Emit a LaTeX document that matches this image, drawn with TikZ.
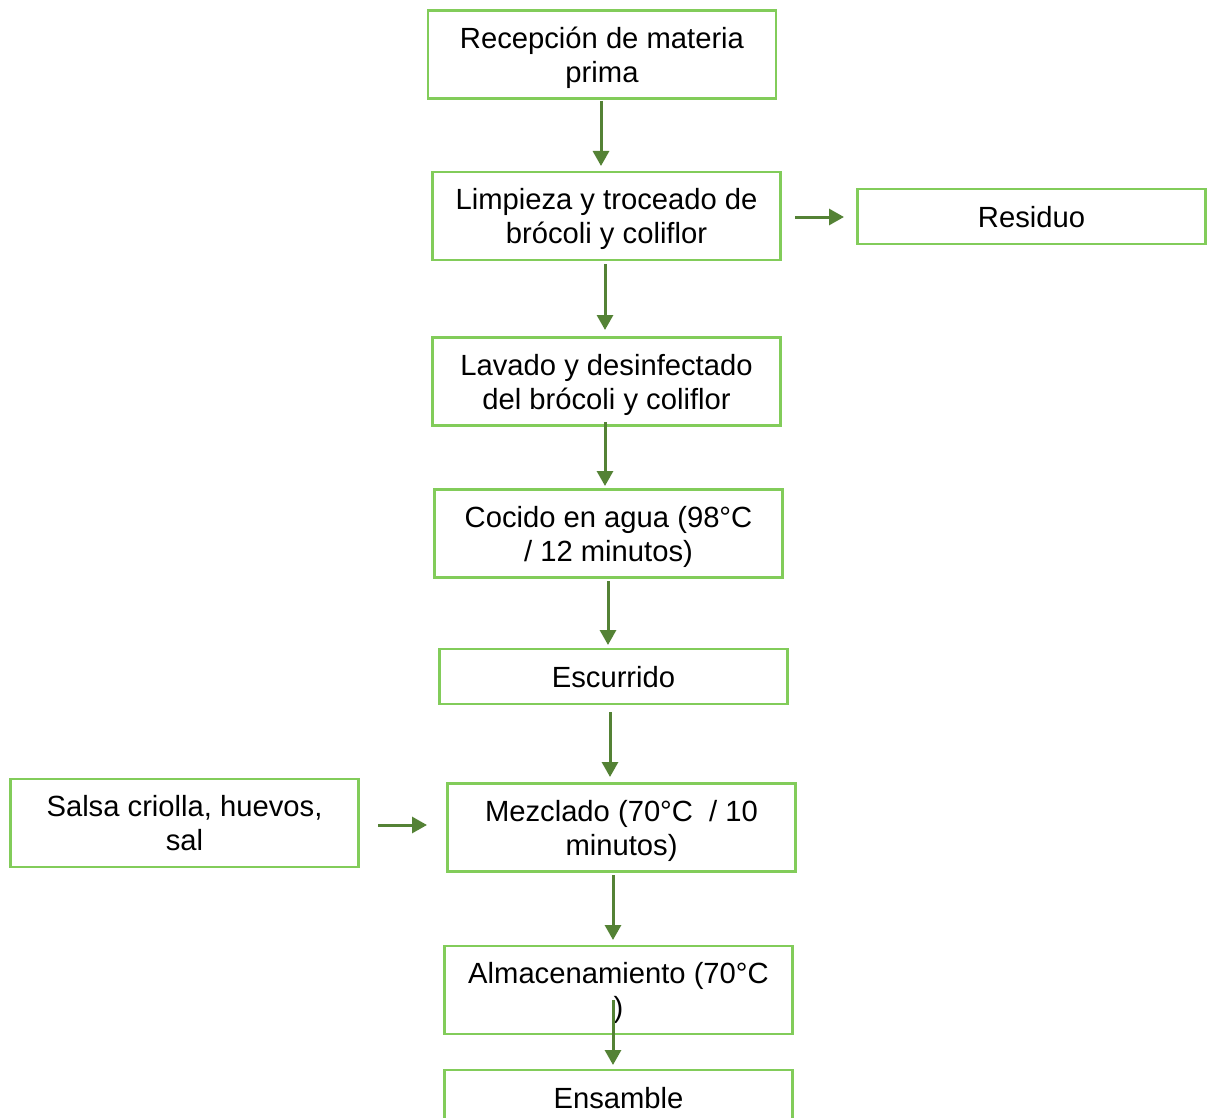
\documentclass[tikz,border=0pt]{standalone}
\usepackage{fontspec}
\setmainfont{Liberation Sans}
\usetikzlibrary{arrows.meta}
\definecolor{boxgreen}{HTML}{82CC5A}
\definecolor{arrowgreen}{HTML}{548235}
% box text, set a little below the box's middle
\newcommand{\boxtext}[1]{\raisebox{-4pt}[\height][\depth]{\begin{tabular}{@{}c@{}}#1\end{tabular}}}
\begin{document}
\begin{tikzpicture}[x=1pt,y=-1pt,
  stepbox/.style={draw=boxgreen,line width=2.5pt,fill=white,align=center,
    minimum width=348pt,inner sep=0pt,
    font=\fontsize{29.2}{33.8}\selectfont},
  tall/.style={minimum height=88pt},
  short/.style={minimum height=55pt},
  flow/.style={draw=arrowgreen,line width=3pt,
    -{Triangle[length=15pt,width=16pt]}}]
\useasboundingbox (0,0) rectangle (1212,1118);

% process steps
\node[stepbox,tall]  (rec) at (602,54.5) {\boxtext{Recepción de materia\\prima}};
\node[stepbox,tall]  (lim) at (606.5,216) {\boxtext{Limpieza y troceado de\\brócoli y coliflor}};
\node[stepbox,short] (res) at (1031.5,216.5) {\boxtext{Residuo}};
\node[stepbox,tall]  (lav) at (606.5,381.5) {\boxtext{Lavado y desinfectado\\del brócoli y coliflor}};
\node[stepbox,tall]  (coc) at (608.5,533.5) {\boxtext{Cocido en agua (98°C\\/ 12 minutos)}};
\node[stepbox,short] (esc) at (613.5,676.5) {\boxtext{Escurrido}};
\node[stepbox,tall]  (sal) at (184.5,823) {\boxtext{Salsa criolla, huevos,\\sal}};
\node[stepbox,tall]  (mez) at (621.5,827.5) {\boxtext{Mezclado (70°C\ \ / 10\\minutos)}};
\node[stepbox,tall]  (alm) at (618.5,990) {\boxtext{Almacenamiento (70°C\\)}};
\node[stepbox,short] (ens) at (618.5,1097.5) {\boxtext{Ensamble}};

% connectors between the steps
\coordinate (a1s) at (601,101);  \coordinate (a1e) at (601,166);
\coordinate (a2s) at (795,217);  \coordinate (a2e) at (844,217);
\coordinate (a3s) at (605,264);  \coordinate (a3e) at (605,330);
\coordinate (a4s) at (605,422);  \coordinate (a4e) at (605,486);
\coordinate (a5s) at (608,581);  \coordinate (a5e) at (608,645);
\coordinate (a6s) at (610,712);  \coordinate (a6e) at (610,777);
\coordinate (a7s) at (378,825);  \coordinate (a7e) at (427,825);
\coordinate (a8s) at (613,875);  \coordinate (a8e) at (613,940);
\coordinate (a9s) at (613,1000); \coordinate (a9e) at (613,1065);
\draw[flow] (a1s) -- (a1e);
\draw[flow] (a2s) -- (a2e);
\draw[flow] (a3s) -- (a3e);
\draw[flow] (a4s) -- (a4e);
\draw[flow] (a5s) -- (a5e);
\draw[flow] (a6s) -- (a6e);
\draw[flow] (a7s) -- (a7e);
\draw[flow] (a8s) -- (a8e);
\draw[flow] (a9s) -- (a9e);
\end{tikzpicture}
\end{document}
